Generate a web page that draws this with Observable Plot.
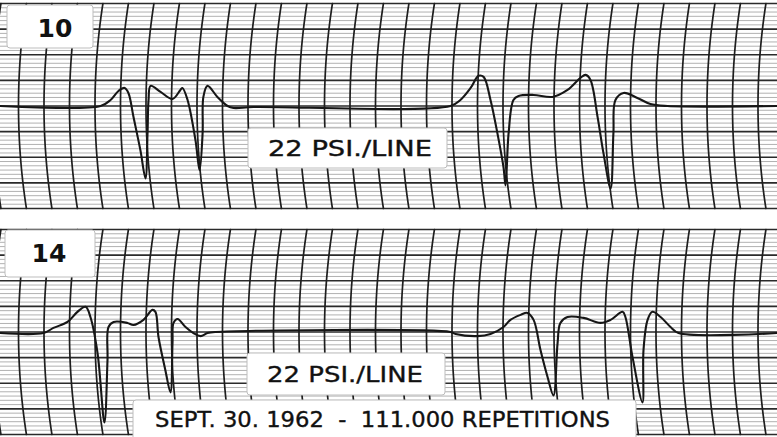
<!DOCTYPE html>
<html><head><meta charset="utf-8">
<script src="https://cdn.jsdelivr.net/npm/d3@7"></script>
<script src="https://cdn.jsdelivr.net/npm/@observablehq/plot@0.6"></script>
<style>
body{margin:0;background:#fff}
#chart{position:relative;width:777px;height:437px;overflow:hidden;background:#fff}
#chart svg{position:absolute;left:0}
</style></head>
<body><div id="chart"></div>
<script>
// ---- data (time in chart divisions, pressure in psi relative to baseline) ----
const panelNames = ["10", "14"];
const unitLabel = "22 PSI./LINE";
const captionText = "SEPT. 30. 1962  -  111.000 REPETITIONS";
const psiPerLine = 22;
const gridColumns = d3.range(-1, 31);

const trace10T = [-0.71, 3.22, 3.61, 3.92, 4.16, 4.31, 4.51, 4.78, 4.98, 5.06, 5.10, 5.18, 5.57, 6.04, 6.35, 6.43, 6.63, 6.94, 7.10, 7.22, 7.25, 7.41, 7.80, 8.20, 8.43, 9.22, 16.94, 17.33, 17.73, 18.04, 18.24, 18.51, 18.78, 19.02, 19.10, 19.22, 19.41, 19.61, 20.20, 20.94, 21.53, 22.04, 22.24, 22.43, 22.71, 22.94, 23.22, 23.33, 23.41, 23.73, 24.27, 24.78, 25.45, 29.76];
const trace10P = [0, 0, 5.2, 12.9, 15.5, 11.2, -9.5, -37.9, -62.1, -23.3, 5.2, 17.3, 12.1, 6.0, 13.8, 15.5, 5.2, -29.3, -55.2, -23.3, 7.8, 17.3, 7.8, 0, -1.7, -0.9, 0, 5.2, 15.5, 25.9, 25.0, 5.2, -23.3, -52.6, -68.2, -23.3, 5.2, 8.6, 9.5, 7.8, 13.8, 24.2, 26.7, 22.4, -9.5, -40.5, -70.7, -23.3, 5.2, 11.2, 6.9, 1.7, 0, 0];

const trace14T = [-0.71, 0.98, 1.37, 1.92, 2.31, 2.63, 2.82, 3.10, 3.37, 3.49, 3.53, 3.73, 4.27, 4.51, 4.90, 5.25, 5.37, 5.49, 5.76, 5.96, 6.04, 6.08, 6.24, 6.55, 6.86, 7.14, 7.41, 7.73, 16.94, 17.14, 18.00, 18.51, 19.02, 19.29, 19.69, 19.96, 20.20, 20.47, 20.75, 20.98, 21.14, 21.25, 21.53, 22.16, 22.82, 23.22, 23.69, 23.80, 24.08, 24.47, 24.51, 24.67, 24.86, 25.18, 25.57, 25.88, 29.76];
const trace14P = [-0.9, -0.9, 3.5, 8.6, 17.3, 21.6, 12.9, -18.1, -77.6, -24.2, 4.3, 8.6, 7.8, 6.0, 10.4, 19.0, 17.3, -4.3, -32.8, -51.8, -9.5, 7.8, 11.2, 4.3, -0.9, -3.5, -0.9, 0, 0, -1.7, -3.5, -1.7, 4.3, 10.4, 14.7, 16.4, 10.4, -15.5, -38.8, -54.4, -9.5, 7.8, 12.9, 12.1, 7.8, 10.4, 17.3, 12.9, -21.6, -60.4, -15.5, 10.4, 17.3, 12.9, 4.3, -0.9, -0.9];

// ---- drawing ----
const chart = document.getElementById("chart");
const W = 777, H = 211;
const pxPerDiv = 25.5;

function panel(ts, ps, top) {
  const trace = ts.map((t, i) => ({t, psi: ps[i]}));
  const major = d3.range(-4, 5).map(i => i * psiPerLine);
  const minor = d3.range(-24, 25).filter(i => i % 6 !== 0).map(i => i * psiPerLine / 6);
  const R = 25.9; // recorder pen arc radius, in divisions
  const arcs = gridColumns.flatMap(k => d3.range(-88, 88.01, 2).map(psi => ({
    k, psi, t: k + R - Math.sqrt(R * R - (psi / psiPerLine) ** 2)
  })));
  const svg = Plot.plot({
    width: W, height: H,
    marginTop: 3, marginBottom: 3, marginLeft: 0, marginRight: 0,
    x: {domain: [-18 / pxPerDiv, (W - 18) / pxPerDiv], axis: null},
    y: {domain: [-88, 88], axis: null},
    style: {background: "transparent", overflow: "visible"},
    marks: [
      Plot.ruleY(minor, {stroke: "#a8a8a8", strokeWidth: 0.9}),
      Plot.ruleY(major, {stroke: "#2a2a2a", strokeWidth: 1.6}),
      Plot.line(arcs, {x: "t", y: "psi", z: "k", stroke: "#1e1e1e", strokeWidth: 1.7}),
      Plot.line(trace, {x: "t", y: "psi", stroke: "#161616", strokeWidth: 2.1, curve: "catmull-rom"})
    ]
  });
  svg.style.top = top + "px";
  chart.appendChild(svg);
}
panel(trace10T, trace10P, 0);
panel(trace14T, trace14P, 226);

// ---- labels ----
const labels = [
  {x: 7, y: 5, w: 86, h: 43, text: panelNames[0], cx: 55, by: 37, fs: 25, bold: true},
  {x: 5, y: 230, w: 90, h: 47, text: panelNames[1], cx: 49, by: 262, fs: 25, bold: true},
  {x: 248, y: 128, w: 199, h: 40, text: unitLabel, tx: 268, by: 156, tw: 164, fs: 21},
  {x: 247, y: 353, w: 198, h: 42, text: unitLabel, tx: 267, by: 382, tw: 156, fs: 22},
  {x: 133, y: 400, w: 503, h: 45, text: captionText, tx: 155, by: 427, tw: 455, fs: 21}
];
const ov = d3.create("svg").attr("width", W).attr("height", 437).style("top", "0px");
for (const l of labels) {
  ov.append("rect").attr("x", l.x).attr("y", l.y).attr("width", l.w).attr("height", l.h)
    .attr("rx", 3).attr("fill", "#fff").attr("stroke", "#bdbdbd").attr("stroke-width", 1);
  const t = ov.append("text").text(l.text)
    .attr("y", l.by)
    .attr("font-family", "'DejaVu Sans', sans-serif")
    .attr("font-size", l.fs)
    .attr("fill", "#111")
    .style("white-space", "pre");
  if (l.bold) {
    t.attr("x", l.cx).attr("text-anchor", "middle").attr("font-weight", "bold");
  } else {
    t.attr("x", l.tx).attr("textLength", l.tw).attr("lengthAdjust", "spacingAndGlyphs")
      .attr("stroke", "#111").attr("stroke-width", 0.35);
  }
}
chart.appendChild(ov.node());
</script>
</body></html>
